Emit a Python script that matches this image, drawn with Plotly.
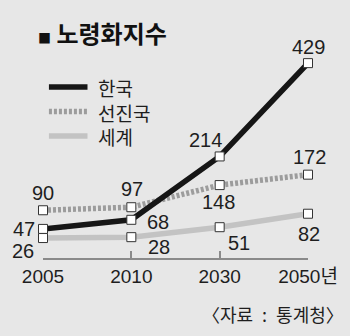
import plotly.graph_objects as go

# ---- data ----
years = ["2005", "2010", "2030", "2050"]
tick_labels = ["2005", "2010", "2030", "2050년"]
series_names = ["한국", "선진국", "세계"]
korea = [47, 68, 214, 429]
advanced = [90, 97, 148, 172]
world = [26, 28, 51, 82]
title_text = "노령화지수"
source_text = "〈자료\u2002:\u2002통계청〉"

# ---- styles ----
BG = "#e7e7e7"
NUM_FONT = "Liberation Sans, Arial, Noto Sans CJK KR"
TICK_FONT = "Liberation Sans, Arial, Noto Sans CJK KR"
KR_FONT = "Noto Sans CJK KR, sans-serif"
TXT = "#1e1e1e"

styles = [
    dict(color="#161616", width=5.5, dash="solid"),
    dict(color="#9c9c9c", width=5.5, dash="3px,2px"),
    dict(color="#c3c3c3", width=5.5, dash="solid"),
]
series_vals = [korea, advanced, world]

# label offsets (xanchor, xshift, yshift) per point
label_pos = [
    [("right", -6, 0), ("left", 14, -2), ("center", -14, 16), ("center", 0, 16)],
    [("center", 0, 17), ("center", 1, 18), ("center", -1, -17), ("center", 1, 18)],
    [("right", -7, -13), ("left", 15, -10), ("left", 6, -16), ("center", 1, -20)],
]

W, H = 350, 336
L, R, T, B = 43, 39, 41, 78
pw, ph = W - L - R, H - T - B


def px(x):
    return (x - L) / pw


def py(y):
    return (H - B - y) / ph


fig = go.Figure()

# lines (drawn back to front: world, advanced, korea)
for i in [2, 1, 0]:
    s = styles[i]
    fig.add_trace(go.Scatter(
        x=years, y=series_vals[i], mode="lines",
        line=dict(color=s["color"], width=s["width"], dash=s["dash"]),
        showlegend=False, cliponaxis=False, hoverinfo="skip"))
for i in [2, 1, 0]:
    fig.add_trace(go.Scatter(
        x=years, y=series_vals[i], mode="markers",
        marker=dict(symbol="square", size=9, color="white",
                    line=dict(color="#333333", width=1)),
        showlegend=False, cliponaxis=False, hoverinfo="skip"))

annotations = []
for i, vals in enumerate(series_vals):
    for j, v in enumerate(vals):
        xa, xs, ys = label_pos[i][j]
        annotations.append(dict(
            x=j, y=v, xref="x", yref="y", text=str(v),
            showarrow=False, xanchor=xa, yanchor="middle",
            xshift=xs, yshift=ys,
            font=dict(family=NUM_FONT, size=20, color=TXT)))

# title
annotations.append(dict(
    x=px(36), y=py(32), xref="paper", yref="paper",
    text="<span style='font-size:13px'>■</span> <b>" + title_text + "</b>",
    showarrow=False, xanchor="left", yanchor="middle",
    font=dict(family=KR_FONT, size=24, color="#111111")))

# legend
leg_y = [87, 111.5, 136]
shapes = []
for i, name in enumerate(series_names):
    s = styles[i]
    shapes.append(dict(
        type="line", xref="paper", yref="paper",
        x0=px(49), x1=px(88), y0=py(leg_y[i]), y1=py(leg_y[i]),
        line=dict(color=s["color"], width=s["width"], dash=s["dash"])))
annotations.append(dict(
    x=px(97), y=py(leg_y[1]), xref="paper", yref="paper",
    text="<br>".join(series_names), align="left",
    showarrow=False, xanchor="left", yanchor="middle",
    font=dict(family=KR_FONT, size=19, color=TXT)))

# source
annotations.append(dict(
    x=px(349), y=py(314), xref="paper", yref="paper", text=source_text,
    showarrow=False, xanchor="right", yanchor="middle",
    font=dict(family=KR_FONT, size=18, color=TXT)))

fig.update_layout(
    width=W, height=H,
    margin=dict(l=L, r=R, t=T, b=B),
    paper_bgcolor=BG, plot_bgcolor=BG,
    showlegend=False,
    annotations=annotations, shapes=shapes,
    xaxis=dict(
        type="category", range=[0, 3], tickvals=years, ticktext=tick_labels,
        showgrid=False, zeroline=False, showline=True, linecolor="#8a8a8a",
        linewidth=1.5, ticks="inside", ticklen=7, tickwidth=1.5,
        tickcolor="#8a8a8a", ticklabelstandoff=0,
        tickfont=dict(family=TICK_FONT, size=19, color=TXT), fixedrange=True),
    yaxis=dict(range=[-20, 480], visible=False, fixedrange=True),
)

fig.write_html("out.html", config={"displayModeBar": False})
